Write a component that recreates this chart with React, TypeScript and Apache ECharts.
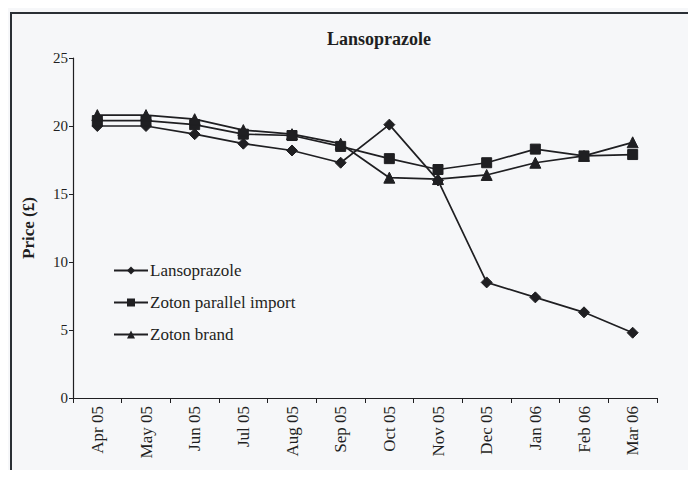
import React, { useEffect, useRef } from "react";
import * as echarts from "echarts";

const categories = ["Apr 05", "May 05", "Jun 05", "Jul 05", "Aug 05", "Sep 05", "Oct 05", "Nov 05", "Dec 05", "Jan 06", "Feb 06", "Mar 06"];
const lansoprazole = [20.0, 20.0, 19.4, 18.7, 18.2, 17.3, 20.1, 16.0, 8.5, 7.4, 6.3, 4.8];
const zotonParallel = [20.4, 20.4, 20.1, 19.4, 19.3, 18.5, 17.6, 16.8, 17.3, 18.3, 17.8, 17.9];
const zotonBrand = [20.8, 20.8, 20.5, 19.7, 19.4, 18.7, 16.2, 16.1, 16.4, 17.3, 17.8, 18.8];
const seriesNames = ["Lansoprazole", "Zoton parallel import", "Zoton brand"];

const FONT = "Liberation Serif";
const INK = "#1f1f22";

export default function App() {
  const ref = useRef<HTMLDivElement>(null);
  useEffect(() => {
    if (!ref.current) return;
    const chart = echarts.init(ref.current, null, { renderer: "svg" });
    const mk = (name: string, data: number[], symbol: string, size: number) => ({
      name,
      type: "line",
      data,
      symbol,
      symbolSize: size,
      showSymbol: true,
      lineStyle: { color: INK, width: 1.7 },
      itemStyle: { color: INK, borderColor: INK },
      emphasis: { disabled: true },
    });
    chart.setOption({
      animation: false,
      backgroundColor: "#f6f7f9",
      textStyle: { fontFamily: FONT, color: INK },
      title: {
        text: "Lansoprazole",
        left: 374,
        textAlign: "center",
        top: 25,
        textStyle: { fontFamily: FONT, fontSize: 18, fontWeight: "bold", color: INK },
      },
      graphic: [
        {
          type: "rect",
          shape: { x: 11, y: 13, width: 700, height: 480 },
          style: { fill: "none", stroke: "#2a2f35", lineWidth: 2 },
          silent: true,
        },
      ],
      legend: {
        orient: "vertical",
        left: 108,
        top: 257,
        itemGap: 15,
        itemWidth: 34,
        itemHeight: 10,
        data: seriesNames,
        textStyle: { fontFamily: FONT, fontSize: 17, color: INK, padding: [0, 0, 0, -3] },
      },
      grid: { left: 73, right: 39, top: 58, bottom: 80, containLabel: false },
      xAxis: {
        type: "category",
        data: categories,
        boundaryGap: true,
        axisLine: { lineStyle: { color: INK, width: 1.2 } },
        axisTick: { show: true, length: 5, lineStyle: { color: INK } },
        axisLabel: { rotate: 90, fontFamily: FONT, fontSize: 17, color: INK, margin: 8 },
      },
      yAxis: {
        type: "value",
        min: 0,
        max: 25,
        interval: 5,
        name: "Price (£)",
        nameLocation: "middle",
        nameGap: 36,
        nameTextStyle: { fontFamily: FONT, fontSize: 17, fontWeight: "bold", color: INK },
        splitLine: { show: false },
        axisLine: { show: true, lineStyle: { color: INK, width: 1.2 } },
        axisTick: { show: true, length: 4, lineStyle: { color: INK } },
        axisLabel: { fontFamily: FONT, fontSize: 15, color: INK, margin: 5 },
      },
      series: [
        mk(seriesNames[0], lansoprazole, "diamond", 11),
        mk(seriesNames[1], zotonParallel, "rect", 10),
        mk(seriesNames[2], zotonBrand, "triangle", 11),
      ],
    });
    return () => chart.dispose();
  }, []);
  return <div ref={ref} style={{ width: 696, height: 478, margin: -8 }} />;
}
